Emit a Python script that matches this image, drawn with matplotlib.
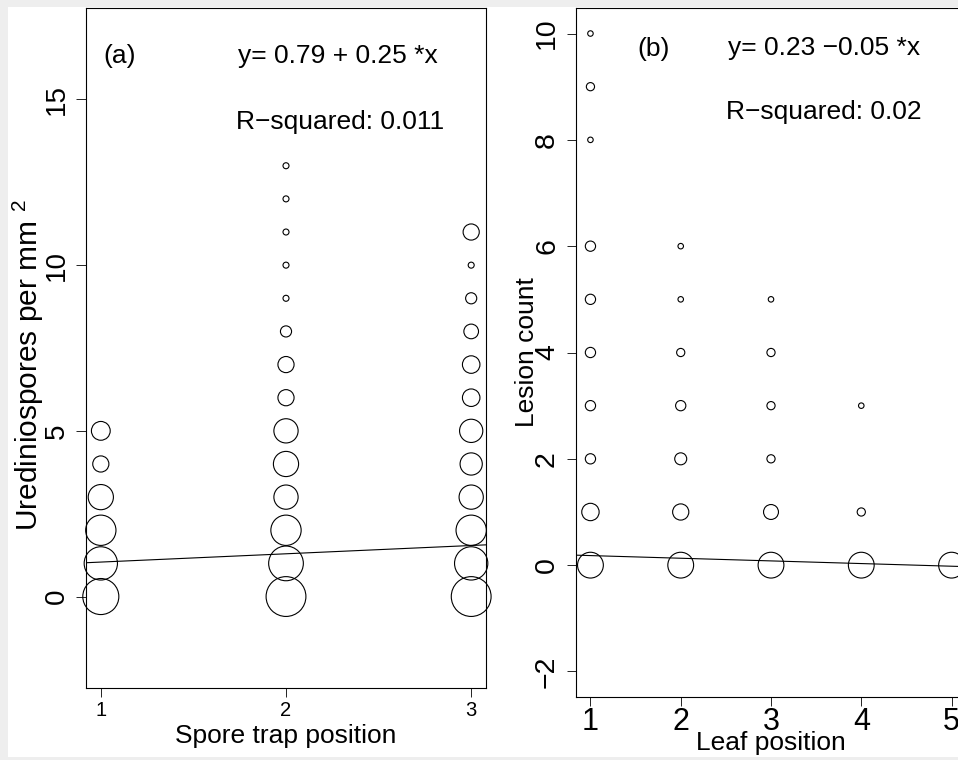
import numpy as np
import matplotlib.pyplot as plt
from matplotlib.patches import Rectangle

plt.rcParams['font.family'] = ['Liberation Sans', 'DejaVu Sans']
plt.rcParams['mathtext.fontset'] = 'custom'
plt.rcParams['mathtext.rm'] = 'Liberation Sans'

# (a) spore trap position vs urediniospores, bubble = number of observations
trap_pos = [1, 1, 1, 1, 1, 1,
            2, 2, 2, 2, 2, 2, 2, 2, 2, 2, 2, 2, 2, 2,
            3, 3, 3, 3, 3, 3, 3, 3, 3, 3, 3, 3]
spores = [0, 1, 2, 3, 4, 5,
          0, 1, 2, 3, 4, 5, 6, 7, 8, 9, 10, 11, 12, 13,
          0, 1, 2, 3, 4, 5, 6, 7, 8, 9, 10, 11]
spores_n = [28, 24, 20, 14, 6, 8,
            34, 26, 20, 13, 14, 13, 6, 6, 3, 1, 1, 1, 1, 1,
            34, 24, 20, 13, 11, 12, 7, 7, 5, 3, 1, 6]
coef_a = [0.79, 0.25]
eq_a = "y= 0.79 + 0.25 *x"
r2_a = "R\u2212squared: 0.011"

# (b) leaf position vs lesion count
leaf_pos = [1, 1, 1, 1, 1, 1, 1, 1, 1, 1,
            2, 2, 2, 2, 2, 2, 2,
            3, 3, 3, 3, 3, 3,
            4, 4, 4,
            5]
lesions = [0, 1, 2, 3, 4, 5, 6, 8, 9, 10,
           0, 1, 2, 3, 4, 5, 6,
           0, 1, 2, 3, 4, 5,
           0, 1, 3,
           0]
lesions_n = [17, 8, 3, 3, 3, 3, 3, 1, 2, 1,
             17, 7, 4, 3, 2, 1, 1,
             17, 6, 2, 2, 2, 1,
             17, 2, 1,
             17]
coef_b = [0.23, -0.05]
eq_b = "y= 0.23 \u22120.05 *x"
r2_b = "R\u2212squared: 0.02"


def bubble(n, c):
    # diameter in px grows with sqrt(count), convert to points^2
    d = c * np.sqrt(np.array(n)) - 1
    return (d * 0.72) ** 2


fig = plt.figure(figsize=(9.58, 7.6), dpi=100)
fig.patch.set_facecolor('#eeeeee')
fig.patches.append(Rectangle((8 / 958, 3 / 760), 1, 750 / 760, transform=fig.transFigure,
                             facecolor='white', edgecolor='none', zorder=-5))

# ---- panel a
ax1 = fig.add_axes([86 / 958, 72 / 760, 400 / 958, 680 / 760])
ax1.scatter(trap_pos, spores, s=bubble(spores_n, 7), facecolors='none',
            edgecolors='black', linewidths=0.8, clip_on=False, zorder=3)
ax1.set_xlim(0.92, 3.08)
ax1.set_ylim(-2.76, 17.76)
xx = np.array(ax1.get_xlim())
ax1.plot(xx, coef_a[0] + coef_a[1] * xx, color='black', lw=0.8)
ax1.set_xticks([1, 2, 3])
ax1.set_yticks([0, 5, 10, 15])
ax1.tick_params(axis='x', labelsize=14.5, length=6.5, width=0.6, pad=3)
ax1.tick_params(axis='y', labelsize=20, length=7, width=0.6, pad=4.5, labelrotation=90)
for lab in ax1.get_yticklabels():
    lab.set_va('center')
ax1.set_xlabel("Spore trap position", fontsize=19, va='top')
ax1.xaxis.set_label_coords(0.5, -0.053)
ax1.set_ylabel("Urediniospores per mm $^{2}$", fontsize=21.5)
ax1.yaxis.set_label_coords(-0.1, 0.475)
ax1.text(0.0425, 0.93, "(a)", transform=ax1.transAxes, fontsize=19, va='center', ha='left')
ax1.text(0.63, 0.93, eq_a, transform=ax1.transAxes, fontsize=19, va='center', ha='center')
ax1.text(0.635, 0.832, r2_a, transform=ax1.transAxes, fontsize=19, va='center', ha='center')
for sp in ax1.spines.values():
    sp.set_linewidth(0.8)

# ---- panel b (runs past the right edge, as in the original)
ax2 = fig.add_axes([576 / 958, 63 / 760, 390 / 958, 689 / 760])
ax2.scatter(leaf_pos, lesions, s=bubble(lesions_n, 6.5), facecolors='none',
            edgecolors='black', linewidths=0.8, zorder=3)
ax2.set_xlim(0.84, 5.16)
ax2.set_ylim(-2.48, 10.48)
xx = np.array(ax2.get_xlim())
ax2.plot(xx, coef_b[0] + coef_b[1] * xx, color='black', lw=0.8)
ax2.set_xticks([1, 2, 3, 4, 5])
ax2.set_yticks([-2, 0, 2, 4, 6, 8, 10])
ax2.tick_params(axis='x', labelsize=22, length=6.5, width=0.6, pad=1)
ax2.tick_params(axis='y', labelsize=20.5, length=6.5, width=0.6, pad=5, labelrotation=90)
for lab in ax2.get_yticklabels():
    lab.set_va('center')
ax2.set_xlabel("Leaf position", fontsize=19, va='top')
ax2.xaxis.set_label_coords(0.5, -0.05)
ax2.set_ylabel("Lesion count", fontsize=19)
ax2.yaxis.set_label_coords((539 - 576) / 390, 0.5)
ax2.text(0.2, 0.94, "(b)", transform=ax2.transAxes, fontsize=19, va='center', ha='center')
ax2.text(0.636, 0.942, eq_b, transform=ax2.transAxes, fontsize=19, va='center', ha='center')
ax2.text(0.636, 0.849, r2_b, transform=ax2.transAxes, fontsize=19, va='center', ha='center')
for sp in ax2.spines.values():
    sp.set_linewidth(0.8)

fig.savefig("out.png", dpi=100)
